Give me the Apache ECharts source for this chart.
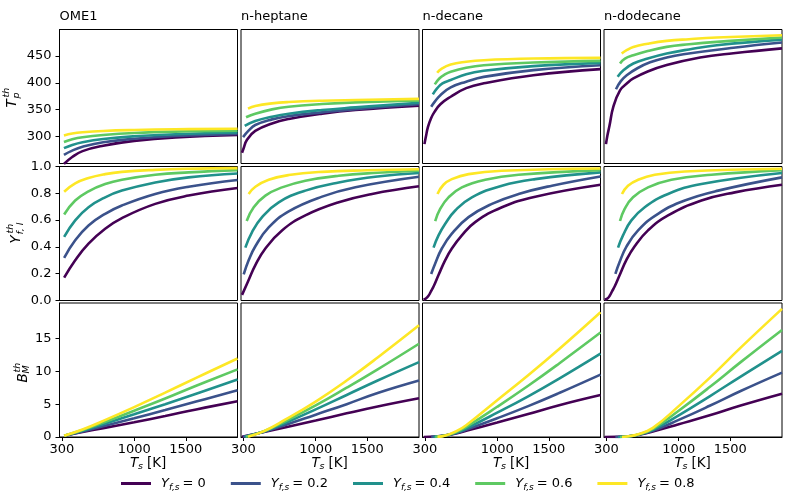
<!DOCTYPE html>
<html>
<head>
<meta charset="utf-8">
<script src="https://cdn.jsdelivr.net/npm/echarts@6/dist/echarts.min.js"></script>
<style>
  html, body { margin: 0; padding: 0; background: #fff; }
  #chart { width: 789px; height: 493px; }
</style>
</head>
<body>
<div id="chart"></div>
<script>
const FONT = 'DejaVu Sans'

// NOTE - 分类 / 颜色 / 刻度
const fuels = ['OME1', 'n-heptane', 'n-decane', 'n-dodecane']
const yfsValues = ['0', '0.2', '0.4', '0.6', '0.8']
const colors = ['#440154', '#3b528b', '#21918c', '#5ec962', '#fde725']
const xTicks = [300, 1000, 1500]
const tpTicks = [300, 350, 400, 450]
const yfTicks = [0, 0.2, 0.4, 0.6, 0.8, 1.0]
const bmTicks = [0, 5, 10, 15]

// NOTE - T_p^th, [Ts, value], one list per Y_f,s
const tpOME1 = [
  [[320, 249], [400, 262], [500, 273], [700, 283], [1000, 292], [1400, 298.5], [2000, 303]],
  [[320, 266], [400, 274], [500, 281], [700, 289.5], [1000, 296], [1400, 301], [2000, 305]],
  [[320, 278.5], [400, 284.5], [500, 289.5], [700, 295.5], [1000, 300.5], [1400, 304.3], [2000, 307.5]],
  [[320, 290], [400, 295], [500, 298.8], [700, 303], [1000, 306.8], [1400, 309.3], [2000, 310.8]],
  [[320, 302], [400, 305.6], [500, 308], [700, 310.5], [1000, 312.3], [1400, 313.6], [2000, 314.5]]
]
const tpHeptane = [
  [[287, 270], [300, 277], [335, 294], [415, 310.5], [577, 324.5], [739, 332.7], [1062, 342.6], [1385, 349.4], [2000, 357.4]],
  [[297, 299], [350, 311], [415, 321.5], [577, 332], [739, 338], [1062, 345], [1385, 351], [2000, 360]],
  [[313, 320], [415, 329], [577, 337], [739, 342.6], [1062, 349.4], [1385, 354.3], [2000, 363]],
  [[326, 336], [415, 342.6], [577, 350.6], [739, 355.6], [1062, 360.5], [1385, 363.6], [2000, 366.7]],
  [[345, 352], [415, 356.8], [577, 361.7], [739, 364.2], [1062, 366.7], [1385, 368], [2000, 370]]
]
const tpDecane = [
  [[296, 286], [310, 300], [330, 318], [360, 334], [390, 345], [450, 360], [550, 374], [700, 390], [870, 399], [1350, 414], [2000, 425.3]],
  [[361, 355.6], [400, 366], [450, 377], [550, 391.4], [700, 402], [870, 411], [1350, 423.5], [2000, 432.7]],
  [[377, 378.4], [420, 390], [470, 399], [550, 405], [700, 416], [870, 422.2], [1350, 430.9], [2000, 437]],
  [[396, 397], [440, 408], [490, 415], [550, 420.4], [700, 428], [870, 432.7], [1350, 437.6], [2000, 440.7]],
  [[419, 418.5], [460, 426], [550, 434], [700, 439], [870, 442], [1350, 445], [2000, 446.3]]
]
const tpDodecane = [
  [[296, 286], [310, 302], [330, 320], [367, 355], [432, 386], [500, 399], [561, 408], [700, 421], [884, 433], [1207, 447], [1530, 455], [2000, 464]],
  [[393, 388], [440, 403], [497, 414], [600, 427], [723, 438], [884, 447], [1046, 453], [1530, 465], [2000, 474.7]],
  [[409, 411], [470, 424], [561, 435.8], [700, 445], [884, 454.3], [1100, 462], [1369, 469.8], [2000, 480.2]],
  [[432, 436], [480, 445], [561, 451.2], [700, 459], [884, 466.7], [1100, 471.5], [1369, 476], [2000, 484]],
  [[448, 454.3], [500, 461], [561, 466.7], [700, 472.5], [884, 477.8], [1100, 481], [1369, 484], [2000, 488.3]]
]

// NOTE - Y_f,l^th
const yfOME1 = [
  [[322, 0.170], [429, 0.301], [558, 0.425], [719, 0.536], [881, 0.615], [1204, 0.721], [1527, 0.783], [2000, 0.840]],
  [[322, 0.318], [429, 0.449], [558, 0.560], [719, 0.647], [881, 0.709], [1204, 0.795], [1527, 0.849], [2000, 0.899]],
  [[322, 0.474], [429, 0.598], [558, 0.696], [719, 0.770], [881, 0.820], [1204, 0.881], [1527, 0.919], [2000, 0.948]],
  [[322, 0.642], [429, 0.746], [558, 0.815], [719, 0.869], [881, 0.901], [1204, 0.938], [1527, 0.956], [2000, 0.973]],
  [[322, 0.812], [429, 0.874], [558, 0.914], [719, 0.943], [881, 0.960], [1204, 0.975], [1527, 0.983], [2000, 0.988]]
]
const yfHeptane = [
  [[287, 0.042], [351, 0.153], [416, 0.264], [513, 0.388], [674, 0.523], [900, 0.635], [1223, 0.733], [1546, 0.795], [2000, 0.852]],
  [[303, 0.195], [351, 0.300], [416, 0.405], [545, 0.545], [739, 0.665], [1062, 0.775], [1385, 0.845], [2000, 0.923]],
  [[319, 0.395], [384, 0.511], [481, 0.622], [642, 0.733], [900, 0.820], [1223, 0.881], [1600, 0.925], [2000, 0.951]],
  [[332, 0.593], [400, 0.696], [513, 0.783], [674, 0.844], [900, 0.894], [1223, 0.931], [1600, 0.953], [2000, 0.968]],
  [[351, 0.795], [416, 0.849], [545, 0.901], [739, 0.936], [1062, 0.960], [1500, 0.972], [2000, 0.980]]
]
const yfDecane = [
  [[287, 0.005], [310, 0.015], [335, 0.035], [360, 0.07], [384, 0.104], [432, 0.190], [497, 0.301], [561, 0.388], [658, 0.486], [787, 0.585], [1046, 0.696], [1369, 0.775], [2000, 0.864]],
  [[361, 0.198], [400, 0.277], [464, 0.388], [561, 0.499], [723, 0.622], [949, 0.721], [1207, 0.795], [1530, 0.857], [2000, 0.926]],
  [[384, 0.395], [432, 0.486], [497, 0.573], [594, 0.672], [755, 0.770], [1046, 0.857], [1369, 0.906], [2000, 0.956]],
  [[400, 0.593], [448, 0.684], [529, 0.770], [658, 0.844], [884, 0.901], [1207, 0.938], [2000, 0.973]],
  [[422, 0.795], [480, 0.864], [561, 0.906], [723, 0.943], [1046, 0.968], [2000, 0.985]]
]
const yfDodecane = [
  [[283, 0.005], [310, 0.015], [332, 0.035], [356, 0.07], [380, 0.104], [429, 0.190], [493, 0.301], [574, 0.405], [703, 0.523], [897, 0.635], [1220, 0.746], [1543, 0.807], [2000, 0.864]],
  [[387, 0.198], [429, 0.289], [493, 0.400], [607, 0.523], [800, 0.647], [1059, 0.746], [1382, 0.820], [2000, 0.919]],
  [[413, 0.395], [461, 0.486], [542, 0.598], [671, 0.696], [897, 0.795], [1220, 0.869], [2000, 0.951]],
  [[432, 0.593], [477, 0.684], [558, 0.770], [703, 0.844], [929, 0.901], [1317, 0.938], [2000, 0.973]],
  [[451, 0.795], [509, 0.857], [607, 0.901], [768, 0.938], [1059, 0.963], [2000, 0.983]]
]

// NOTE - B_M^th
const bmOME1 = [
  [[322, 0.2], [500, 0.75], [700, 1.35], [1000, 2.25], [1300, 3.2], [1600, 4.2], [2000, 5.45]],
  [[322, 0.2], [500, 0.85], [700, 1.65], [1000, 2.85], [1300, 4.1], [1600, 5.4], [2000, 7.1]],
  [[322, 0.2], [500, 0.95], [700, 1.95], [1000, 3.45], [1300, 5.0], [1600, 6.6], [2000, 8.75]],
  [[322, 0.2], [500, 1.05], [700, 2.2], [1000, 4.0], [1300, 5.85], [1600, 7.8], [2000, 10.3]],
  [[322, 0.2], [500, 1.15], [700, 2.45], [1000, 4.55], [1300, 6.75], [1600, 9.0], [2000, 11.95]]
]
const bmHeptane = [
  [[287, 0.05], [500, 0.75], [700, 1.45], [1000, 2.5], [1300, 3.6], [1600, 4.65], [2000, 5.9]],
  [[297, 0.05], [500, 0.8], [700, 1.8], [1000, 3.4], [1300, 5.0], [1600, 6.7], [2000, 8.6]],
  [[313, 0.05], [500, 0.85], [700, 2.1], [1000, 4.2], [1300, 6.4], [1600, 8.6], [2000, 11.4]],
  [[326, 0.05], [500, 0.9], [700, 2.35], [1000, 4.8], [1300, 7.5], [1600, 10.3], [2000, 14.2]],
  [[345, 0.05], [500, 0.9], [700, 2.6], [1000, 5.4], [1300, 8.6], [1600, 12.1], [2000, 17.0]]
]
const bmDecane = [
  [[290, 0.0], [400, 0.07], [500, 0.25], [600, 0.55], [700, 0.95], [1000, 2.2], [1300, 3.5], [1600, 4.85], [2000, 6.4]],
  [[361, 0.02], [500, 0.22], [600, 0.58], [700, 1.1], [1000, 2.85], [1300, 4.7], [1600, 6.7], [2000, 9.5]],
  [[384, 0.02], [500, 0.22], [600, 0.65], [700, 1.3], [1000, 3.7], [1300, 6.2], [1600, 8.9], [2000, 12.7]],
  [[400, 0.02], [500, 0.22], [600, 0.75], [700, 1.55], [1000, 4.6], [1300, 7.8], [1600, 11.2], [2000, 15.9]],
  [[422, 0.02], [500, 0.22], [600, 0.85], [700, 1.8], [1000, 5.6], [1300, 9.4], [1600, 13.4], [2000, 19.0]]
]
const bmDodecane = [
  [[283, 0.0], [400, 0.02], [500, 0.1], [600, 0.3], [750, 0.85], [1000, 1.95], [1300, 3.3], [1600, 4.8], [2000, 6.6]],
  [[387, 0.01], [500, 0.08], [600, 0.3], [750, 0.95], [1000, 2.6], [1300, 4.75], [1600, 7.0], [2000, 9.8]],
  [[413, 0.01], [500, 0.08], [600, 0.32], [750, 1.1], [1000, 3.3], [1300, 6.2], [1600, 9.2], [2000, 13.1]],
  [[432, 0.01], [500, 0.08], [600, 0.35], [750, 1.25], [1000, 4.0], [1300, 7.6], [1600, 11.4], [2000, 16.3]],
  [[451, 0.01], [500, 0.08], [600, 0.38], [750, 1.4], [1000, 4.7], [1300, 9.0], [1600, 13.6], [2000, 19.5]]
]

// NOTE - 布局
const COL_LEFT = [59.5, 241, 422.5, 604]
const ROW_TOP = [29.5, 166.5, 303]
const PANEL_W = 178
const PANEL_H = 134

const rows = [
  { data: [tpOME1, tpHeptane, tpDecane, tpDodecane], min: 250, max: 499, ticks: tpTicks, fmt: v => String(v) },
  { data: [yfOME1, yfHeptane, yfDecane, yfDodecane], min: 0, max: 1, ticks: yfTicks, fmt: v => v.toFixed(1) },
  { data: [bmOME1, bmHeptane, bmDecane, bmDodecane], min: 0, max: 20.4, ticks: bmTicks, fmt: v => String(v) }
]

const labelStyle = { color: '#000', fontSize: 13, fontFamily: FONT }

const grids = []
const xAxes = []
const yAxes = []
const series = []

rows.forEach((row, r) => {
  row.data.forEach((panel, c) => {
    const idx = r * 4 + c
    const isBottom = r === 2
    const isLeft = c === 0
    grids.push({
      left: COL_LEFT[c], top: ROW_TOP[r], width: PANEL_W, height: PANEL_H,
      show: true, borderColor: '#000', borderWidth: 1, backgroundColor: 'transparent'
    })
    xAxes.push({
      type: 'value', gridIndex: idx, min: 277, max: 2000,
      axisLine: { show: isBottom, onZero: false, lineStyle: { color: '#000', width: 1 } },
      splitLine: { show: false },
      axisTick: { show: isBottom, length: 4, customValues: xTicks, lineStyle: { color: '#000' } },
      axisLabel: { show: isBottom, customValues: xTicks, margin: 6, formatter: v => String(v), ...labelStyle }
    })
    yAxes.push({
      type: 'value', gridIndex: idx, min: row.min, max: row.max,
      axisLine: { show: isLeft, onZero: false, lineStyle: { color: '#000', width: 1 } },
      splitLine: { show: false },
      axisTick: { show: isLeft, length: 4, customValues: row.ticks, lineStyle: { color: '#000' } },
      axisLabel: { show: isLeft, customValues: row.ticks, margin: 8, formatter: row.fmt, ...labelStyle }
    })
    panel.forEach((pts, s) => {
      series.push({
        name: yfsValues[s],
        type: 'line',
        xAxisIndex: idx,
        yAxisIndex: idx,
        data: pts,
        showSymbol: false,
        symbol: 'none',
        smooth: 0.45,
        clip: true,
        silent: true,
        z: 2 + s,
        lineStyle: { width: 2.6, color: colors[s], cap: 'butt' },
        itemStyle: { color: colors[s] }
      })
    })
  })
})

// NOTE - 数学标签
const mathText = (text, x, y, size, italic) => ({
  type: 'text', x, y,
  style: {
    text, fill: '#000',
    font: `${italic ? 'italic ' : ''}${size}px "${FONT}"`,
    textAlign: 'left', textVerticalAlign: 'middle'
  }
})

const yLabel = (x, y, base, sup, sub) => ({
  type: 'group', x, y, rotation: Math.PI / 2,
  children: [
    mathText(base, -10.5, 0, 13.5, true),
    mathText(sup, -0.5, -5.5, 9.5, true),
    mathText(sub, -1.5, 4, 9.5, true)
  ]
})

const xLabel = cx => ({
  type: 'group', x: cx, y: 463,
  children: [
    mathText('T', -18.5, 0, 13.5, true),
    mathText('s', -10.5, 3.5, 9.5, true),
    mathText('[K]', -1.5, 0, 13.5, false)
  ]
})

const graphic = [
  yLabel(12.5, 97, 'T', 'th', 'p'),
  yLabel(16.5, 233, 'Y', 'th', 'f, l'),
  yLabel(23, 372, 'B', 'th', 'M'),
  ...COL_LEFT.map(l => xLabel(l + PANEL_W / 2))
]

const option = {
  animation: false,
  backgroundColor: '#fff',
  textStyle: { fontFamily: FONT },
  title: fuels.map((f, i) => ({
    text: f, left: COL_LEFT[i], top: 10, padding: 0,
    textStyle: { color: '#000', fontSize: 13, fontWeight: 'normal', fontFamily: FONT }
  })),
  legend: {
    data: yfsValues,
    left: 116, top: 472,
    itemWidth: 30, itemHeight: 3, itemGap: 25,
    icon: 'rect',
    selectedMode: false,
    formatter: name => `{i|Y}{s|f,s}{n|= ${name}}`,
    textStyle: {
      color: '#000', fontFamily: FONT, fontSize: 13, padding: [0, 0, 0, 5],
      rich: {
        i: { fontStyle: 'italic', fontSize: 13, fontFamily: FONT, lineHeight: 18 },
        s: { fontStyle: 'italic', fontSize: 9, fontFamily: FONT, lineHeight: 9, verticalAlign: 'bottom', padding: [0, 3, 0, 0] },
        n: { fontSize: 13, fontFamily: FONT, lineHeight: 18 }
      }
    }
  },
  grid: grids,
  xAxis: xAxes,
  yAxis: yAxes,
  series,
  graphic
}

const myChart = echarts.init(document.querySelector('#chart'))
myChart.setOption(option)
</script>
</body>
</html>
